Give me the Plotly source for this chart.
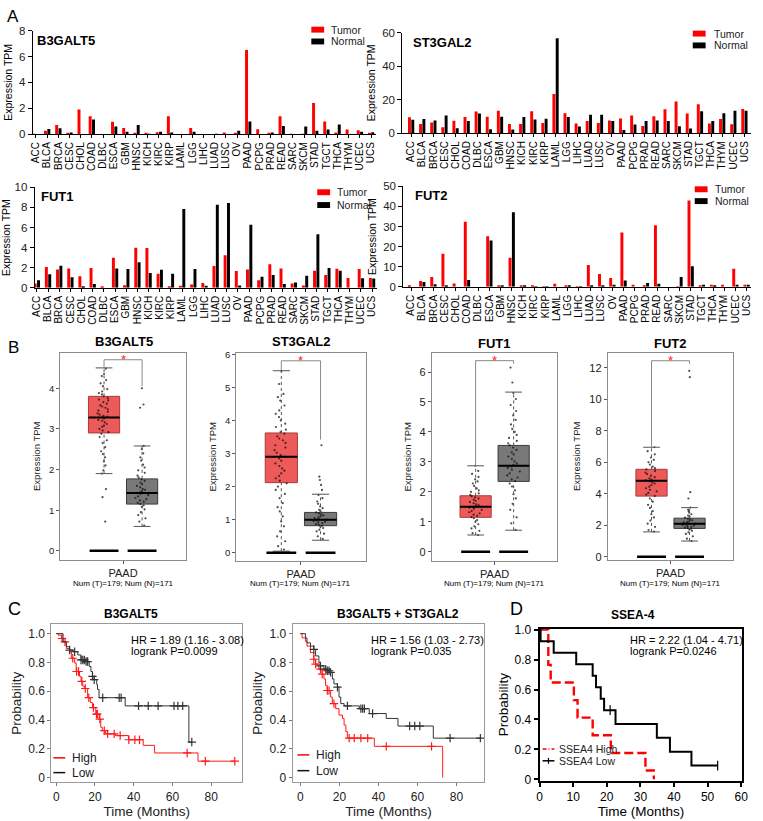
import plotly.graph_objects as go

W, H = 763, 821
FONT = "Liberation Sans, Arial, sans-serif"

# ---------------- Panel A data ----------------
cancers = ["ACC", "BLCA", "BRCA", "CESC", "CHOL", "COAD", "DLBC", "ESCA", "GBM", "HNSC",
           "KICH", "KIRC", "KIRP", "LAML", "LGG", "LIHC", "LUAD", "LUSC", "OV", "PAAD",
           "PCPG", "PRAD", "READ", "SARC", "SKCM", "STAD", "TGCT", "THCA", "THYM", "UCEC", "UCS"]
series_names = ["Tumor", "Normal"]

b3galt5_tumor = [0.02, 0.25, 0.7, 0.08, 1.9, 1.38, 0.0, 0.95, 0.47, 0.05, 0.08, 0.15, 1.38, 0.0, 0.47, 0.0,
                 0.0, 0.12, 0.05, 6.5, 0.38, 0.05, 1.38, 0.03, 0.02, 2.4, 0.98, 0.12, 0.36, 0.3, 0.1]
b3galt5_normal = [0.0, 0.4, 0.45, 0.13, 0.0, 1.12, 0.0, 0.58, 0.18, 0.7, 0.02, 0.18, 0.12, 0.0, 0.18, 0.0,
                  0.02, 0.0, 0.25, 0.97, 0.0, 0.12, 0.62, 0.0, 0.58, 0.25, 0.36, 0.75, 0.0, 0.18, 0.15]

st3gal2_tumor = [9.4, 5.5, 6.4, 3.5, 7.4, 9.6, 12.9, 9.7, 13.4, 5.5, 5.5, 13.1, 6.0, 23.4, 11.9, 5.7,
                 7.2, 6.0, 7.6, 8.8, 10.5, 4.3, 10.1, 14.2, 18.9, 11.7, 17.2, 5.7, 8.4, 5.3, 14.4]
st3gal2_normal = [8.0, 8.4, 7.6, 10.5, 2.9, 7.2, 11.7, 2.3, 9.7, 2.1, 9.6, 8.2, 8.6, 56.7, 9.6, 3.9,
                  10.9, 10.9, 7.2, 1.8, 5.1, 7.2, 7.6, 7.2, 4.1, 2.7, 13.1, 7.2, 11.9, 13.3, 13.4]

fut1_tumor = [0.42, 2.06, 1.83, 1.93, 1.14, 1.96, 0.1, 3.0, 0.26, 3.99, 3.95, 1.41, 0.16, 0.2, 0.33, 0.49,
              2.16, 3.24, 1.67, 1.83, 0.75, 2.35, 1.93, 0.42, 0.23, 1.7, 1.27, 1.9, 0.98, 1.86, 0.98]
fut1_normal = [0.75, 1.34, 2.19, 1.05, 0.16, 0.39, 0.0, 1.93, 1.86, 2.55, 1.47, 1.8, 1.41, 7.84, 1.86, 0.2,
               8.27, 8.43, 0.23, 6.27, 1.11, 1.27, 0.39, 0.52, 1.21, 5.33, 1.96, 1.7, 0.0, 0.95, 0.92]

fut2_tumor = [0.5, 2.9, 4.9, 16.4, 1.6, 32.4, 0.0, 25.2, 0.3, 14.5, 0.5, 0.3, 0.2, 1.5, 0.3, 0.1,
              10.9, 6.4, 4.4, 27.0, 1.1, 0.6, 30.6, 0.0, 0.1, 43.0, 0.5, 1.0, 1.0, 9.0, 1.1]
fut2_normal = [0.0, 2.4, 1.3, 0.8, 0.0, 3.4, 0.0, 23.1, 0.6, 37.1, 0.5, 0.1, 0.2, 0.0, 0.6, 0.1,
               0.5, 0.5, 1.1, 3.2, 0.0, 1.9, 1.5, 0.0, 4.9, 10.3, 1.0, 0.5, 0.0, 1.0, 1.0]

# ---------------- Panel B data (PAAD) ----------------
# stats: q1, median, q3, lower whisker, upper whisker
b3galt5_t_stats = [2.9, 3.28, 3.8, 1.9, 4.5]
b3galt5_n_stats = [1.15, 1.42, 1.77, 0.6, 2.58]
st3gal2_t_stats = [2.12, 2.9, 3.62, 0.05, 5.5]
st3gal2_n_stats = [0.82, 1.0, 1.22, 0.38, 1.77]
fut1_t_stats = [1.15, 1.5, 1.87, 0.56, 2.87]
fut1_n_stats = [2.35, 2.87, 3.55, 0.72, 5.33]
fut2_t_stats = [3.85, 4.82, 5.55, 1.58, 6.95]
fut2_n_stats = [1.8, 2.1, 2.45, 1.0, 3.12]

b3galt5_t_pts = [4.48, 4.35, 4.3, 4.2, 4.12, 4.05, 3.98, 3.92, 3.88, 3.85, 3.8, 3.76, 3.72, 3.7, 3.66,
                 3.62, 3.58, 3.55, 3.52, 3.48, 3.45, 3.42, 3.38, 3.35, 3.32, 3.3, 3.28, 3.26, 3.22, 3.2,
                 3.16, 3.12, 3.08, 3.05, 3.0, 2.96, 2.92, 2.88, 2.8, 2.72, 2.65, 2.55, 2.45, 2.38, 2.3,
                 2.2, 2.1, 1.98, 1.9, 1.52, 1.32, 0.72]
b3galt5_n_pts = [4.0, 3.6, 3.52, 2.58, 2.5, 2.4, 2.3, 2.22, 2.12, 2.05, 1.98, 1.92, 1.85, 1.8, 1.76,
                 1.72, 1.68, 1.64, 1.6, 1.56, 1.52, 1.5, 1.47, 1.44, 1.42, 1.4, 1.37, 1.34, 1.3, 1.27,
                 1.24, 1.21, 1.18, 1.15, 1.12, 1.08, 1.02, 0.95, 0.88, 0.8, 0.72, 0.62]
st3gal2_t_pts = [5.5, 5.1, 4.8, 4.7, 4.6, 4.45, 4.3, 4.2, 4.1, 4.0, 3.9, 3.8, 3.72, 3.65, 3.6, 3.52,
                 3.45, 3.4, 3.32, 3.25, 3.18, 3.1, 3.02, 2.95, 2.9, 2.85, 2.78, 2.7, 2.62, 2.55, 2.48,
                 2.4, 2.32, 2.25, 2.18, 2.1, 2.0, 1.9, 1.78, 1.65, 1.5, 1.38, 1.25, 1.1, 0.95, 0.8,
                 0.65, 0.5, 0.35, 0.2, 0.1]
st3gal2_n_pts = [3.25, 2.3, 2.2, 2.05, 1.9, 1.75, 1.65, 1.55, 1.48, 1.4, 1.35, 1.3, 1.25, 1.22, 1.19,
                 1.16, 1.13, 1.1, 1.07, 1.05, 1.02, 1.0, 0.98, 0.96, 0.94, 0.92, 0.9, 0.87, 0.85, 0.82,
                 0.79, 0.75, 0.7, 0.65, 0.58, 0.5, 0.42]
fut1_t_pts = [2.87, 2.7, 2.6, 2.5, 2.42, 2.35, 2.28, 2.2, 2.12, 2.05, 2.0, 1.95, 1.9, 1.86, 1.82, 1.78,
              1.74, 1.7, 1.66, 1.62, 1.58, 1.55, 1.52, 1.5, 1.47, 1.44, 1.4, 1.36, 1.32, 1.28, 1.24,
              1.2, 1.16, 1.12, 1.06, 1.0, 0.92, 0.85, 0.78, 0.7, 0.62, 0.56]
fut1_n_pts = [6.15, 5.65, 5.3, 5.1, 4.9, 4.7, 4.55, 4.4, 4.25, 4.1, 4.0, 3.9, 3.8, 3.7, 3.62, 3.55,
              3.48, 3.4, 3.32, 3.25, 3.18, 3.1, 3.02, 2.95, 2.9, 2.85, 2.8, 2.74, 2.68, 2.62, 2.55,
              2.48, 2.42, 2.36, 2.28, 2.18, 2.05, 1.92, 1.78, 1.6, 1.4, 1.15, 0.95, 0.73]
fut2_t_pts = [6.95, 6.7, 6.5, 6.3, 6.15, 6.0, 5.85, 5.72, 5.62, 5.55, 5.45, 5.35, 5.25, 5.15, 5.05,
              4.98, 4.9, 4.85, 4.8, 4.72, 4.65, 4.55, 4.45, 4.35, 4.25, 4.15, 4.05, 3.95, 3.85, 3.7,
              3.5, 3.3, 3.1, 2.9, 2.7, 2.5, 2.3, 2.1, 1.9, 1.7, 1.6]
fut2_n_pts = [11.8, 11.4, 4.1, 3.7, 3.12, 3.0, 2.9, 2.8, 2.7, 2.62, 2.55, 2.48, 2.42, 2.37, 2.32, 2.27,
              2.22, 2.18, 2.14, 2.1, 2.06, 2.02, 1.98, 1.94, 1.9, 1.86, 1.82, 1.78, 1.72, 1.65, 1.55,
              1.45, 1.3, 1.15, 1.0]

# significance bracket: left end, top, right end
b3galt5_bracket = [4.5, 4.7, 4.05]
st3gal2_bracket = [5.53, 5.8, 3.42]
fut1_bracket = [2.83, 6.38, 6.28]
fut2_bracket = [6.94, 12.44, 12.25]

# ---------------- Panel C/D data (Kaplan-Meier) ----------------
c1_low_t = [0, 3.5, 5.2, 6.9, 8.6, 11.1, 12.8, 15.4, 17.0, 17.9, 18.7, 19.6, 20.9, 21.3, 22.1, 35.6, 68.5]
c1_low_s = [1.0, 0.943, 0.909, 0.886, 0.874, 0.852, 0.817, 0.806, 0.772, 0.737, 0.703, 0.68, 0.646,
            0.612, 0.555, 0.498, 0.247]
c1_low_end = 70.0
c1_low_cens = [6.9, 9.5, 12.8, 13.7, 14.5, 15.4, 16.2, 18.7, 19.6, 24.0, 32.5, 33.5, 42.5, 47.5, 52.6,
               60.8, 62.8, 65.3, 70.0]
c1_high_t = [0, 1.0, 2.7, 3.5, 5.2, 6.9, 7.8, 9.5, 10.3, 12.0, 12.8, 13.7, 14.5, 16.2, 17.6, 18.7, 20.4,
             22.1, 23.0, 23.8, 25.5, 30.5, 37.3, 44.9, 50.8, 73.2]
c1_high_s = [1.0, 0.989, 0.966, 0.943, 0.897, 0.874, 0.829, 0.795, 0.737, 0.703, 0.669, 0.635, 0.619,
             0.555, 0.521, 0.486, 0.441, 0.406, 0.349, 0.326, 0.304, 0.292, 0.263, 0.224, 0.171, 0.114]
c1_high_end = 92.2
c1_high_cens = [3.0, 4.5, 8.5, 10.5, 11.5, 13.2, 15.0, 16.8, 19.2, 20.8, 21.2, 22.5, 24.8, 26.5, 29.9,
                33.0, 37.5, 40.6, 43.0, 67.6, 77.0, 92.2]

c2_low_t = [0, 2.6, 3.4, 5.2, 6.9, 7.8, 9.5, 10.3, 12.1, 13.8, 15.5, 16.4, 17.2, 19.0, 19.8, 20.7, 22.4,
            30.2, 35.3, 44.0, 50.0, 68.1]
c2_low_s = [1.0, 0.97, 0.936, 0.913, 0.89, 0.845, 0.799, 0.776, 0.753, 0.742, 0.731, 0.685, 0.651,
            0.628, 0.559, 0.514, 0.498, 0.479, 0.445, 0.411, 0.358, 0.274]
c2_low_end = 92.2
c2_low_cens = [6.9, 10.3, 13.0, 13.8, 14.7, 15.5, 19.0, 24.1, 31.0, 31.9, 32.8, 37.0, 56.0, 58.6, 61.2,
               76.7, 92.2]
c2_high_t = [0, 0.9, 2.6, 3.4, 5.2, 6.9, 7.8, 9.5, 11.2, 12.1, 12.9, 13.8, 15.5, 16.4, 18.1, 19.8, 21.6,
             22.4, 23.3, 24.1, 37.9, 72.9]
c2_high_s = [1.0, 0.97, 0.947, 0.913, 0.868, 0.822, 0.788, 0.753, 0.719, 0.685, 0.639, 0.605, 0.559,
             0.514, 0.479, 0.434, 0.411, 0.365, 0.32, 0.274, 0.217, 0.0]
c2_high_end = 72.9
c2_high_cens = [6.9, 7.8, 10.3, 11.2, 13.8, 14.7, 17.2, 25.0, 27.6, 31.0, 34.5, 44.0, 67.2]

d_low_t = [0, 0.3, 4.2, 10.9, 15.8, 16.8, 18.2, 19.2, 22.6, 34.9, 38.8, 45.2]
d_low_s = [1.0, 0.923, 0.846, 0.769, 0.692, 0.615, 0.538, 0.462, 0.369, 0.277, 0.185, 0.092]
d_low_end = 53.0
d_low_cens = [21.0, 53.0]
d_high_t = [0, 2.6, 3.3, 10.2, 11.3, 15.8, 21.2, 31.5, 34.0]
d_high_s = [1.0, 0.765, 0.647, 0.529, 0.412, 0.294, 0.176, 0.059, 0.0]
d_high_end = 34.0

# ---------------- helpers ----------------
fig = go.Figure()
layout = {}
annotations = []
shapes = []


def dom(x0, x1, y0, y1):
    return [x0 / W, x1 / W], [1 - y1 / H, 1 - y0 / H]


def ax(i):
    return ("x" if i == 1 else f"x{i}"), ("y" if i == 1 else f"y{i}")


def set_axes(i, box, xkw, ykw):
    xd, yd = dom(*box)
    xn = "xaxis" if i == 1 else f"xaxis{i}"
    yn = "yaxis" if i == 1 else f"yaxis{i}"
    xa, ya = ax(i)
    layout[xn] = dict(domain=xd, anchor=ya, showgrid=False, zeroline=False, **xkw)
    layout[yn] = dict(domain=yd, anchor=xa, showgrid=False, zeroline=False, **ykw)


def text(x, y, s, size=12, bold=False, xanchor="center", yanchor="middle", color="black", xref="paper", yref="paper"):
    if xref == "paper":
        x = x / W
    if yref == "paper":
        y = 1 - y / H
    annotations.append(dict(x=x, y=y, xref=xref, yref=yref, text=(f"<b>{s}</b>" if bold else s),
                            showarrow=False, xanchor=xanchor, yanchor=yanchor,
                            font=dict(family=FONT, size=size, color=color)))


def legend_rect(x0, x1, yc, h, color):
    shapes.append(dict(type="rect", xref="paper", yref="paper", x0=x0 / W, x1=x1 / W,
                       y0=1 - (yc + h / 2) / H, y1=1 - (yc - h / 2) / H, fillcolor=color, line=dict(width=0)))


def legend_line(x0, x1, yc, color, width, dash="solid"):
    shapes.append(dict(type="line", xref="paper", yref="paper", x0=x0 / W, x1=x1 / W,
                       y0=1 - yc / H, y1=1 - yc / H, line=dict(color=color, width=width, dash=dash)))


# ---------------- Panel A ----------------
A_specs = [
    (1, (30, 377, 25, 130), [-0.3, 30.4], 8, [0, 2, 4, 6, 8], b3galt5_tumor, b3galt5_normal, "B3GALT5", (32, 35),
     (312, 325, 330, 24, 36)),
    (2, (404, 757, 27, 129), [-0.8, 30.6], 60, [0, 20, 40, 60], st3gal2_tumor, st3gal2_normal, "ST3GAL2", (413, 37),
     (698, 711, 717, 28, 40)),
    (3, (32, 378, 184, 286), [-0.2, 30.4], 10, [0, 2, 4, 6, 8, 10], fut1_tumor, fut1_normal, "FUT1", (36, 193),
     (318, 331, 336, 189, 202)),
    (4, (405, 757, 183, 285), [-0.7, 30.4], 50, [0, 10, 20, 30, 40, 50], fut2_tumor, fut2_normal, "FUT2", (415, 192),
     (700, 713, 718, 186, 198)),
]
for i, box, xr, ymax, yt, tum, nor, title, tpos, lg in A_specs:
    xa, ya = ax(i)
    fig.add_trace(go.Bar(x=cancers, y=tum, name=series_names[0], marker=dict(color="#FF0000", line=dict(width=0)),
                         xaxis=xa, yaxis=ya))
    fig.add_trace(go.Bar(x=cancers, y=nor, name=series_names[1], marker=dict(color="#000000", line=dict(width=0)),
                         xaxis=xa, yaxis=ya))
    set_axes(i, box,
             dict(type="category", range=xr, tickmode="array", tickvals=cancers, ticktext=cancers, tickangle=-90,
                  showline=True, linecolor="black", linewidth=1,
                  ticks="outside", ticklen=3, tickcolor="black", tickfont=dict(family=FONT, size=10, color="black")),
             dict(range=[0, ymax], tickvals=yt, showline=True, linecolor="black", linewidth=1, ticks="outside",
                  ticklen=4, tickcolor="black", tickfont=dict(family=FONT, size=11.5, color="#222"),
                  title=dict(text="Expression TPM", font=dict(family=FONT, size=10.5, color="black"), standoff=4)))
    text(tpos[0], tpos[1], title, size=13, bold=True, xanchor="left")
    sx0, sx1, tx0, y1, y2 = lg
    legend_rect(sx0, sx1, y1, 6, "#FF0000")
    legend_rect(sx0, sx1, y2, 6, "#000000")
    text(tx0, y1, series_names[0], size=10.5, xanchor="left", color="#222")
    text(tx0, y2, series_names[1], size=10.5, xanchor="left", color="#222")

# ---------------- Panel B ----------------
TUM_FILL, NOR_FILL = "#EE5A5A", "#787878"
B_specs = [
    (5, (58, 185, 352, 562), [-0.22, 4.87], [0, 1, 2, 3, 4], b3galt5_t_stats, b3galt5_n_stats, b3galt5_t_pts,
     b3galt5_n_pts, b3galt5_bracket, "B3GALT5", 122, 340, 9.5),
    (6, (236, 367, 352, 563), [-0.24, 6.04], [0, 1, 2, 3, 4, 5, 6], st3gal2_t_stats, st3gal2_n_stats, st3gal2_t_pts,
     st3gal2_n_pts, st3gal2_bracket, "ST3GAL2", 302, 340, 9.5),
    (7, (434, 561, 352, 563), [-0.3, 6.64], [0, 1, 2, 3, 4, 5, 6], fut1_t_stats, fut1_n_stats, fut1_t_pts,
     fut1_n_pts, fut1_bracket, "FUT1", 497, 343, 11),
    (8, (612, 739, 352, 562), [-0.19, 12.94], [0, 2, 4, 6, 8, 10, 12], fut2_t_stats, fut2_n_stats, fut2_t_pts,
     fut2_n_pts, fut2_bracket, "FUT2", 675, 343, 11),
]
BW = 0.82
for i, box, yr, yt, ts, ns, tp, npts, br, title, tx, ty, tfs in B_specs:
    xa, ya = ax(i)
    for c, st, pts, fill, edge in [(0, ts, tp, TUM_FILL, "#A83A3A"), (1, ns, npts, NOR_FILL, "#3C3C3C")]:
        q1, med, q3, lo, hi = st
        fig.add_trace(go.Scatter(x=[c, c, None, c, c], y=[lo, q1, None, q3, hi], mode="lines",
                                 line=dict(color="#555", width=1, dash="dot"), xaxis=xa, yaxis=ya,
                                 showlegend=False, hoverinfo="skip"))
        fig.add_trace(go.Scatter(x=[c - 0.22, c + 0.22, None, c - 0.22, c + 0.22], y=[lo, lo, None, hi, hi],
                                 mode="lines", line=dict(color="#555", width=1), xaxis=xa, yaxis=ya,
                                 showlegend=False, hoverinfo="skip"))
        fig.add_trace(go.Box(x=[c], q1=[q1], median=[med], q3=[q3], lowerfence=[q1], upperfence=[q3],
                             orientation="v", width=BW, fillcolor=fill, line=dict(color=edge, width=1),
                             whiskerwidth=0, xaxis=xa, yaxis=ya, showlegend=False, hoverinfo="skip"))
        fig.add_trace(go.Box(x=[c] * len(pts), y=pts, orientation="v", boxpoints="all", jitter=0.45, pointpos=0,
                             width=BW, fillcolor="rgba(0,0,0,0)", line=dict(color="rgba(0,0,0,0)", width=0),
                             marker=dict(color="#111", size=2.2, opacity=0.75), xaxis=xa, yaxis=ya,
                             showlegend=False, hoverinfo="skip"))
        fig.add_trace(go.Scatter(x=[c - BW / 2, c + BW / 2], y=[med, med], mode="lines",
                                 line=dict(color="black", width=2), xaxis=xa, yaxis=ya,
                                 showlegend=False, hoverinfo="skip"))
        fig.add_trace(go.Scatter(x=[c - BW / 2 + 0.03, c + BW / 2 - 0.03], y=[0, 0], mode="lines",
                                 line=dict(color="black", width=2.5), xaxis=xa, yaxis=ya,
                                 showlegend=False, hoverinfo="skip"))
    fig.add_trace(go.Scatter(x=[0, 0, 1, 1], y=[br[0], br[1], br[1], br[2]], mode="lines",
                             line=dict(color="#8A8A8A", width=1), xaxis=xa, yaxis=ya,
                             showlegend=False, hoverinfo="skip"))
    text(0.5, br[1], "*", size=13, color="#FF2020", xref=xa, yref=ya)
    set_axes(i, box,
             dict(range=[-1.15, 2.15], tickvals=[0.5], ticktext=["PAAD"], showline=True, mirror=True,
                  linecolor="#8C8C8C", linewidth=1, ticks="outside", ticklen=3, tickcolor="#555",
                  tickfont=dict(family=FONT, size=11, color="#222")),
             dict(range=yr, tickvals=yt, showline=True, mirror=True, linecolor="#8C8C8C", linewidth=1,
                  ticks="outside", ticklen=3, tickcolor="#555", tickfont=dict(family=FONT, size=tfs, color="#222"),
                  title=dict(text="Expression TPM", font=dict(family=FONT, size=9.5, color="#222"), standoff=6)))
    text(tx, ty, title, size=13, bold=True)
    text((box[0] + box[1]) / 2, 586, "Num (T)=179; Num (N)=171", size=8)


# ---------------- Panels C & D ----------------
def surv_at(times, surv, t):
    v = surv[0]
    for tt, ss in zip(times, surv):
        if tt <= t:
            v = ss
    return v


def km(i, times, surv, end, cens, color, width, name, dash="solid", sym="cross-thin-open", msize=6):
    xa, ya = ax(i)
    fig.add_trace(go.Scatter(x=times + [end], y=surv + [surv[-1]], mode="lines", line_shape="hv",
                             line=dict(color=color, width=width, dash=dash), name=name, xaxis=xa, yaxis=ya))
    if cens:
        fig.add_trace(go.Scatter(x=cens, y=[surv_at(times, surv, t) for t in cens], mode="markers",
                                 marker=dict(symbol=sym, size=msize, color=color, line=dict(color=color, width=1.2)),
                                 xaxis=xa, yaxis=ya, hoverinfo="skip"))


TICKF = dict(family=FONT, size=12, color="#222")
C_specs = [
    (9, (49, 242, 627, 788), [-2.5, 96], c1_high_t, c1_high_s, c1_high_end, c1_high_cens, c1_low_t, c1_low_s,
     c1_low_end, c1_low_cens, "B3GALT5", 130, ["HR = 1.89 (1.16 - 3.08)", "logrank P=0.0099"], 128,
     (51, 63, 68, 763, 778)),
    (10, (293, 487, 627, 788), [-4.0, 94.2], c2_high_t, c2_high_s, c2_high_end, c2_high_cens, c2_low_t, c2_low_s,
     c2_low_end, c2_low_cens, "B3GALT5 + ST3GAL2", 400, ["HR = 1.56 (1.03 - 2.73)", "logrank P=0.035"], 370,
     (298, 310, 315, 760, 776)),
]
for i, box, xr, ht, hs, he, hc, lt, ls, le, lc, title, tx, hr, hx, lg in C_specs:
    km(i, ht, hs, he, hc, "#FF1A1A", 1, "High")
    km(i, lt, ls, le, lc, "#333333", 1, "Low")
    set_axes(i, box,
             dict(range=xr, tickvals=[0, 20, 40, 60, 80], showline=True, mirror=True, linecolor="#9A9A9A",
                  linewidth=1, ticks="outside", ticklen=3, tickcolor="#777", tickfont=TICKF,
                  title=dict(text="Time (Months)", font=dict(family=FONT, size=13.5, color="#222"), standoff=0)),
             dict(range=[-0.034, 1.068], tickvals=[0, 0.2, 0.4, 0.6, 0.8, 1.0],
                  ticktext=["0", "0.2", "0.4", "0.6", "0.8", "1.0"], showline=True, mirror=True,
                  linecolor="#9A9A9A", linewidth=1, ticks="outside", ticklen=3, tickcolor="#777", tickfont=TICKF,
                  title=dict(text="Probability", font=dict(family=FONT, size=13.5, color="#222"), standoff=3)))
    text(tx, 617, title, size=12, bold=True)
    text(hx, 643, hr[0], size=11, xanchor="left")
    text(hx, 655, hr[1], size=11, xanchor="left")
    lx0, lx1, ltx, ly1, ly2 = lg
    legend_line(lx0, lx1, ly1, "#FF0000", 1.5)
    legend_line(lx0, lx1, ly2, "#111111", 1.5)
    text(ltx, ly1, "High", size=12, xanchor="left", color="#222")
    text(ltx, ly2, "Low", size=12, xanchor="left", color="#222")

km(11, d_high_t, d_high_s, d_high_end, [], "#FF0000", 2.4, "SSEA4 High", dash="9px,4px")
km(11, d_low_t, d_low_s, d_low_end, d_low_cens, "#000000", 2, "SSEA4 Low", sym="line-ns-open", msize=7)
set_axes(11, (543, 748, 632, 786),
         dict(range=[0, 60.3], tickvals=[0, 10, 20, 30, 40, 50, 60], showline=True, mirror=True, linecolor="black",
              linewidth=2, ticks="outside", ticklen=4, tickwidth=1.5, tickcolor="black",
              tickfont=dict(family=FONT, size=12, color="black"),
              title=dict(text="Time (Months)", font=dict(family=FONT, size=13.5, color="black"), standoff=0)),
         dict(range=[-0.008, 1.006], tickvals=[0, 0.2, 0.4, 0.6, 0.8, 1.0],
              ticktext=["0", "0.2", "0.4", "0.6", "0.8", "1.0"], showline=True, mirror=True, linecolor="black",
              linewidth=2, ticks="outside", ticklen=4, tickwidth=1.5, tickcolor="black",
              tickfont=dict(family=FONT, size=12, color="black"),
              title=dict(text="Probability", font=dict(family=FONT, size=13.5, color="black"), standoff=3)))
text(638, 618, "SSEA-4", size=12, bold=True)
text(632, 643, "HR = 2.22 (1.04 - 4.71)", size=11, xanchor="left")
text(632, 655, "logrank P=0.0246", size=11, xanchor="left")
legend_line(546, 558, 754, "#FF0000", 1.5, dash="4px,2px,1px,2px")
legend_line(546, 558, 766, "#000000", 1.5)
shapes.append(dict(type="line", xref="paper", yref="paper", x0=552 / W, x1=552 / W, y0=1 - 769 / H,
                   y1=1 - 763 / H, line=dict(color="black", width=1.2)))
text(561, 754, "SSEA4 High", size=10.5, xanchor="left", color="#222")
text(561, 766, "SSEA4 Low", size=10.5, xanchor="left", color="#222")

# panel letters
text(2, 11, "A", size=17, xanchor="left")
text(3, 347, "B", size=17, xanchor="left")
text(3, 612, "C", size=18, xanchor="left")
text(511, 612, "D", size=18, xanchor="left")

fig.update_layout(
    width=W, height=H, margin=dict(l=0, r=0, t=0, b=0),
    paper_bgcolor="white", plot_bgcolor="white",
    font=dict(family=FONT, color="black"),
    barmode="group", bargap=0.4, bargroupgap=0.12, boxmode="overlay",
    annotations=annotations, shapes=shapes, showlegend=False,
    **layout,
)

fig.write_html("out.html", config={"displayModeBar": False},
               post_script="document.body.style.margin='0px';document.body.style.overflow='hidden';")
